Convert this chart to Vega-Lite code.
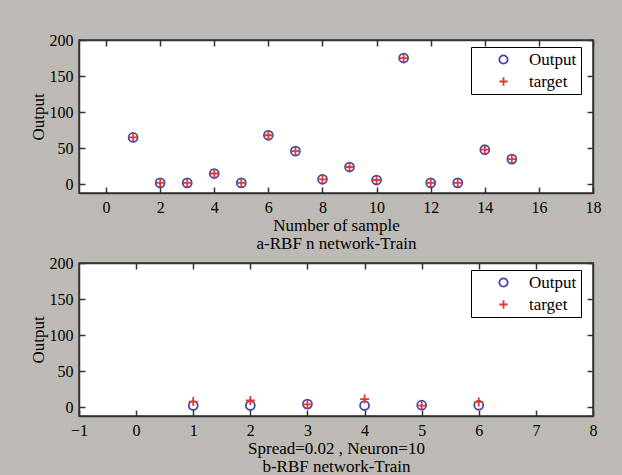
{
  "$schema": "https://vega.github.io/schema/vega-lite/v6.json",
  "background": "#bdbab5",
  "padding": {"left": 28, "top": 31, "right": 20, "bottom": 6},
  "config": {
    "font": "Liberation Serif",
    "view": {"fill": "white", "stroke": "#333333", "strokeWidth": 1.5},
    "axis": {
      "labelFont": "Liberation Serif", "titleFont": "Liberation Serif",
      "labelFontSize": 16, "titleFontSize": 17, "titleFontWeight": "normal",
      "labelColor": "black", "titleColor": "black",
      "domainColor": "#333333", "domainWidth": 1.5,
      "tickColor": "#333333", "tickWidth": 1.5, "tickSize": -6,
      "grid": false, "labelPadding": 12, "labelFlush": false, "titleLineHeight": 18, "titlePadding": 2
    },
    "legend": {
      "orient": "none", "legendX": 392, "legendY": 7, "title": null,
      "strokeColor": "black", "fillColor": "white", "padding": 4,
      "labelFont": "Liberation Serif", "labelFontSize": 17, "labelColor": "black",
      "symbolStrokeWidth": 1.8, "symbolSize": 70, "rowPadding": 4, "symbolOffset": 20, "labelOffset": 17
    },
    "concat": {"spacing": 2}
  },
  "resolve": {
    "scale": {"x": "independent", "y": "independent", "color": "independent", "shape": "independent"},
    "legend": {"color": "independent", "shape": "independent"}
  },
  "vconcat": [
    {
      "width": 514, "height": 153,
      "data": {"values": [
        {"sample": 1, "series": "Output", "value": 65},
        {"sample": 2, "series": "Output", "value": 2},
        {"sample": 3, "series": "Output", "value": 2},
        {"sample": 4, "series": "Output", "value": 15},
        {"sample": 5, "series": "Output", "value": 2},
        {"sample": 6, "series": "Output", "value": 68},
        {"sample": 7, "series": "Output", "value": 46},
        {"sample": 8, "series": "Output", "value": 7},
        {"sample": 9, "series": "Output", "value": 24},
        {"sample": 10, "series": "Output", "value": 6},
        {"sample": 11, "series": "Output", "value": 175},
        {"sample": 12, "series": "Output", "value": 2},
        {"sample": 13, "series": "Output", "value": 2},
        {"sample": 14, "series": "Output", "value": 48},
        {"sample": 15, "series": "Output", "value": 35},
        {"sample": 1, "series": "target", "value": 65},
        {"sample": 2, "series": "target", "value": 2},
        {"sample": 3, "series": "target", "value": 2},
        {"sample": 4, "series": "target", "value": 15},
        {"sample": 5, "series": "target", "value": 2},
        {"sample": 6, "series": "target", "value": 68},
        {"sample": 7, "series": "target", "value": 46},
        {"sample": 8, "series": "target", "value": 7},
        {"sample": 9, "series": "target", "value": 24},
        {"sample": 10, "series": "target", "value": 6},
        {"sample": 11, "series": "target", "value": 175},
        {"sample": 12, "series": "target", "value": 2},
        {"sample": 13, "series": "target", "value": 2},
        {"sample": 14, "series": "target", "value": 48},
        {"sample": 15, "series": "target", "value": 35}
      ]},
      "layer": [
        {
          "mark": {"type": "point", "filled": false, "size": 80, "strokeWidth": 1.8, "opacity": 1},
          "encoding": {
            "x": {"field": "sample", "type": "quantitative", "scale": {"domain": [-1, 18], "nice": false, "zero": false},
                  "axis": {"values": [0, 2, 4, 6, 8, 10, 12, 14, 16, 18], "title": ["Number of sample", "a-RBF n network-Train"]}},
            "y": {"field": "value", "type": "quantitative", "scale": {"domain": [-12, 200], "nice": false, "zero": false},
                  "axis": {"values": [0, 50, 100, 150, 200], "title": "Output"}},
            "color": {"field": "series", "type": "nominal", "scale": {"domain": ["Output", "target"], "range": ["#4646a6", "#e3382e"]}},
            "shape": {"field": "series", "type": "nominal", "scale": {"domain": ["Output", "target"], "range": ["circle", "M-1,0L1,0M0,-1L0,1"]}}
          }
        },
        {
          "mark": {"type": "point", "opacity": 0},
          "encoding": {
            "x": {"field": "sample", "type": "quantitative", "axis": {"orient": "top", "labels": false, "title": null, "values": [0, 2, 4, 6, 8, 10, 12, 14, 16, 18]}},
            "y": {"field": "value", "type": "quantitative", "axis": {"orient": "right", "labels": false, "title": null, "values": [0, 50, 100, 150, 200]}}
          }
        }
      ],
      "resolve": {"axis": {"x": "independent", "y": "independent"}}
    },
    {
      "width": 514, "height": 153,
      "data": {"values": [
        {"sample": 1, "series": "Output", "value": 2.5},
        {"sample": 2, "series": "Output", "value": 2.5},
        {"sample": 3, "series": "Output", "value": 4.5},
        {"sample": 4, "series": "Output", "value": 2.5},
        {"sample": 5, "series": "Output", "value": 3},
        {"sample": 6, "series": "Output", "value": 3},
        {"sample": 1, "series": "target", "value": 8},
        {"sample": 2, "series": "target", "value": 9.5},
        {"sample": 3, "series": "target", "value": 4},
        {"sample": 4, "series": "target", "value": 11.5},
        {"sample": 5, "series": "target", "value": 2.5},
        {"sample": 6, "series": "target", "value": 7.5}
      ]},
      "layer": [
        {
          "mark": {"type": "point", "filled": false, "size": 80, "strokeWidth": 1.8, "opacity": 1},
          "encoding": {
            "x": {"field": "sample", "type": "quantitative", "scale": {"domain": [-1, 8], "nice": false, "zero": false},
                  "axis": {"values": [-1, 0, 1, 2, 3, 4, 5, 6, 7, 8], "title": ["Spread=0.02 , Neuron=10", "b-RBF network-Train"]}},
            "y": {"field": "value", "type": "quantitative", "scale": {"domain": [-12, 200], "nice": false, "zero": false},
                  "axis": {"values": [0, 50, 100, 150, 200], "title": "Output"}},
            "color": {"field": "series", "type": "nominal", "scale": {"domain": ["Output", "target"], "range": ["#4646a6", "#e3382e"]}},
            "shape": {"field": "series", "type": "nominal", "scale": {"domain": ["Output", "target"], "range": ["circle", "M-1,0L1,0M0,-1L0,1"]}}
          }
        },
        {
          "mark": {"type": "point", "opacity": 0},
          "encoding": {
            "x": {"field": "sample", "type": "quantitative", "axis": {"orient": "top", "labels": false, "title": null, "values": [0, 1, 2, 3, 4, 5, 6, 7]}},
            "y": {"field": "value", "type": "quantitative", "axis": {"orient": "right", "labels": false, "title": null, "values": [0, 50, 100, 150, 200]}}
          }
        }
      ],
      "resolve": {"axis": {"x": "independent", "y": "independent"}}
    }
  ]
}
